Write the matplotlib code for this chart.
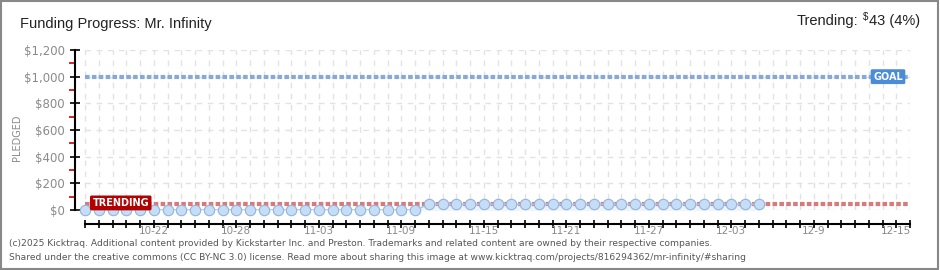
"""Kicktraq style funding progress chart for Mr. Infinity."""

import matplotlib.pyplot as plt
import matplotlib.dates as mdates
import numpy as np
import pandas as pd

plt.rcParams["font.family"] = ["DejaVu Sans"]

# --- data ---
START = "2025-10-17"
pledged = [0, 0, 0, 0, 0, 0, 0, 0, 0, 0,
           0, 0, 0, 0, 0, 0, 0, 0, 0, 0,
           0, 0, 0, 0, 0, 43, 43, 43, 43, 43,
           43, 43, 43, 43, 43, 43, 43, 43, 43, 43,
           43, 43, 43, 43, 43, 43, 43, 43, 43, 43]
dates = pd.date_range(START, periods=len(pledged), freq="D")
axis_days = pd.date_range(START, periods=61, freq="D")
goal = 1000
trending = 43
trending_pct = 4
tick_labels = ["10-22", "10-28", "11-03", "11-09", "11-15",
               "11-21", "11-27", "12-03", "12-9", "12-15"]
y_ticks = [0, 200, 400, 600, 800, 1000, 1200]

GREY = "#8a8a8a"

fig = plt.figure(figsize=(9.4, 2.7), dpi=100)
W, H = 940, 270
ax = fig.add_axes([75 / W, 60 / H, 835 / W, 160 / H])

x0 = mdates.date2num(axis_days[0])
x1 = mdates.date2num(axis_days[-1])
ax.set_xlim(x0 - 10 / 13.75, x1)
ax.set_ylim(0, 1200)

# grid
for d in axis_days:
    ax.axvline(d, color="#e2e2e2", lw=1, ls=(0, (4, 4)), zorder=0)
for v in y_ticks:
    ax.plot([x0, x1], [v, v], color="#e2e2e2", lw=1, ls=(0, (4, 4)), zorder=0)

# goal and trending lines
ax.plot([x0, x1], [goal, goal], color="#86a9d6", lw=3, ls=(0, (1.1, 0.55)), zorder=2)
ax.plot([x0, x1], [trending, trending], color="#d97a7a", lw=3, ls=(0, (1.1, 0.55)), zorder=2)

# pledged series
ax.fill_between(dates, pledged, 0, color="#eef4fb", zorder=1)
ax.plot(dates, pledged, color="#a9c9ee", lw=1.2, zorder=3)
ax.plot(dates, pledged, ls="none", marker="o", ms=7.5, mfc="#c6ddf7",
        mec="#93b3da", mew=0.8, zorder=4, clip_on=False)

# labels on lines
ax.text(x0 + 2.6, trending + 10, "TRENDING",
        color="white", fontsize=7, fontweight="bold", ha="center", va="center", zorder=5,
        bbox=dict(boxstyle="round,pad=0.25,rounding_size=0.15", fc="#b30000", ec="none"))
ax.text(x0 + 58.4, goal, "GOAL",
        color="white", fontsize=7, fontweight="bold", ha="center", va="center", zorder=5,
        bbox=dict(boxstyle="round,pad=0.25,rounding_size=0.15", fc="#4a8cd6", ec="none"))

# spines / axes
for s in ["top", "right"]:
    ax.spines[s].set_visible(False)
ax.spines["left"].set_linewidth(1.5)
ax.spines["bottom"].set_position(("outward", 10))
ax.spines["bottom"].set_bounds(x0, x1)
ax.spines["bottom"].set_linewidth(1.5)

ax.set_yticks(y_ticks)
ax.set_yticklabels([f"${v:,}" for v in y_ticks], color=GREY, fontsize=8.5)
ax.set_yticks([100, 300, 500, 700, 900, 1100], minor=True)
ax.tick_params(axis="y", which="major", direction="inout", length=7, width=1.2, pad=4)
ax.tick_params(axis="y", which="minor", direction="out", length=4, width=1.2, color="#d00000")
ax.set_ylabel("PLEDGED", color=GREY, fontsize=7)
ax.yaxis.set_label_coords(-53 / 835, 0.45)

ax.set_xticks(axis_days)
ax.set_xticklabels([""] * len(axis_days))
ax.tick_params(axis="x", which="major", direction="inout", length=6, width=1.2)
label_pos = [mdates.date2num(axis_days[5 + 6 * i]) for i in range(len(tick_labels))]
for xp, lab in zip(label_pos, tick_labels):
    ax.text(xp, -21 / 160, lab, transform=ax.get_xaxis_transform(), color=GREY,
            fontsize=7.5, ha="center", va="center")

# header
fig.text(20 / W, 1 - 24 / H, "Funding Progress: Mr. Infinity", fontsize=10.5,
         va="center", ha="left", color="#222222", family="Liberation Sans")

renderer = fig.canvas.get_renderer()
t_val = fig.text(920 / W, 1 - 21 / H, f"{trending} ({trending_pct}%)", fontsize=10.5,
                 va="center", ha="right", color="#222222", family="Liberation Sans")
bb = t_val.get_window_extent(renderer)
t_dol = fig.text((bb.x0 - 1) / W, 1 - 17 / H, "$", fontsize=7, va="center", ha="right",
                 color="#222222", family="Liberation Sans")
bb2 = t_dol.get_window_extent(renderer)
fig.text((bb2.x0 - 4) / W, 1 - 21 / H, "Trending:", fontsize=10.5, va="center",
         ha="right", color="#222222", family="Liberation Sans")

# footer
fig.text(9 / W, 1 - 243 / H,
         "(c)2025 Kicktraq. Additional content provided by Kickstarter Inc. and Preston. "
         "Trademarks and related content are owned by their respective companies.",
         fontsize=6.6, color="#555555", va="center")
fig.text(9 / W, 1 - 257 / H,
         "Shared under the creative commons (CC BY-NC 3.0) license. Read more about sharing "
         "this image at www.kicktraq.com/projects/816294362/mr-infinity/#sharing",
         fontsize=6.6, color="#555555", va="center")

# outer border
fig.patches.append(plt.Rectangle((0.001, 0.002), 0.997, 0.995, transform=fig.transFigure,
                                 fill=False, ec="#888888", lw=1.5))

fig.savefig("out.png", dpi=100)
